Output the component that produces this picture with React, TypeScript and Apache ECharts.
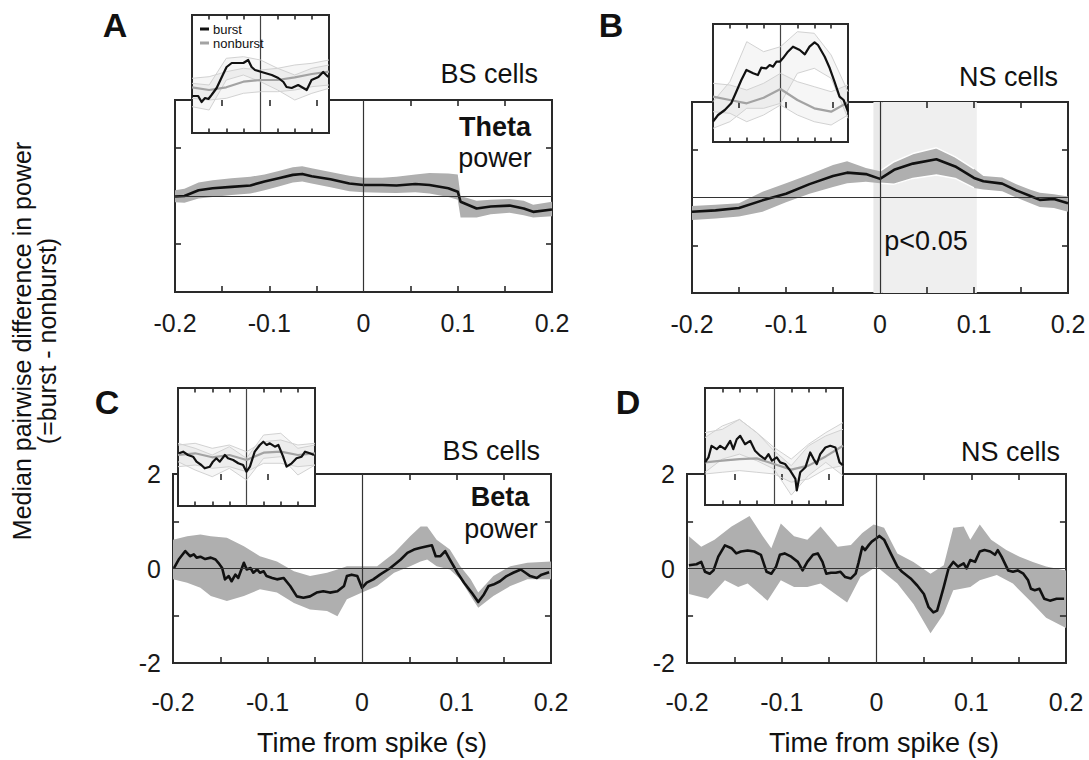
import React, { useEffect, useRef } from "react";
import * as echarts from "echarts";

const FONT = '"Liberation Sans", Arial, Helvetica, sans-serif';

// ---------- Panel A: theta power, BS cells ----------
const tA = [-0.2, -0.19, -0.175, -0.16, -0.14, -0.12, -0.105, -0.09, -0.075, -0.065, -0.055, -0.035, -0.015, 0, 0.02, 0.035, 0.055, 0.07, 0.09, 0.1, 0.103, 0.12, 0.135, 0.155, 0.17, 0.18, 0.2];
const meanA = [-0.01, 0.0, 0.12, 0.16, 0.19, 0.22, 0.3, 0.37, 0.44, 0.46, 0.41, 0.35, 0.26, 0.23, 0.23, 0.22, 0.25, 0.23, 0.16, 0.09, -0.12, -0.26, -0.22, -0.2, -0.26, -0.33, -0.28];
const hiA = [0.12, 0.15, 0.28, 0.33, 0.37, 0.4, 0.45, 0.52, 0.6, 0.62, 0.58, 0.5, 0.42, 0.38, 0.38, 0.4, 0.45, 0.48, 0.47, 0.45, 0.0, -0.1, -0.08, -0.06, -0.1, -0.18, -0.12];
const loA = [-0.13, -0.14, -0.05, -0.02, 0.02, 0.05, 0.12, 0.2, 0.28, 0.3, 0.26, 0.18, 0.1, 0.08, 0.07, 0.06, 0.08, 0.05, -0.02, -0.08, -0.45, -0.45, -0.38, -0.35, -0.4, -0.45, -0.42];

// ---------- Panel B: theta power, NS cells ----------
const tB = [-0.2, -0.175, -0.15, -0.125, -0.1, -0.075, -0.05, -0.035, -0.015, 0, 0.015, 0.035, 0.06, 0.08, 0.1, 0.11, 0.13, 0.145, 0.16, 0.17, 0.185, 0.2];
const meanB = [-0.3, -0.27, -0.22, -0.06, 0.08, 0.28, 0.45, 0.52, 0.49, 0.39, 0.58, 0.71, 0.8, 0.65, 0.41, 0.34, 0.29, 0.15, 0.03, -0.05, -0.03, -0.12];
const hiB = [-0.18, -0.15, -0.12, 0.12, 0.3, 0.48, 0.68, 0.76, 0.62, 0.55, 0.75, 0.92, 1.04, 0.85, 0.6, 0.45, 0.42, 0.28, 0.16, 0.1, 0.07, 0.02];
const loB = [-0.47, -0.44, -0.4, -0.3, -0.1, 0.08, 0.22, 0.3, 0.33, 0.3, 0.28, 0.4, 0.47, 0.4, 0.2, 0.17, 0.13, 0.0, -0.12, -0.2, -0.22, -0.3];
const sigB = [-0.007, 0.103];

// ---------- Panel C: beta power, BS cells ----------
const tC = [-0.199, -0.194, -0.187, -0.182, -0.178, -0.175, -0.171, -0.166, -0.16, -0.155, -0.152, -0.148, -0.145, -0.141, -0.138, -0.134, -0.131, -0.125, -0.122, -0.118, -0.115, -0.111, -0.108, -0.104, -0.101, -0.095, -0.09, -0.083, -0.076, -0.069, -0.062, -0.055, -0.048, -0.041, -0.034, -0.026, -0.019, -0.016, -0.011, -0.005, 0, 0.005, 0.012, 0.019, 0.03, 0.041, 0.048, 0.055, 0.062, 0.069, 0.074, 0.078, 0.083, 0.088, 0.093, 0.101, 0.108, 0.116, 0.123, 0.129, 0.134, 0.139, 0.146, 0.153, 0.16, 0.168, 0.173, 0.178, 0.185, 0.19, 0.198];
const meanC = [0.01, 0.19, 0.37, 0.26, 0.3, 0.23, 0.25, 0.2, 0.23, 0.19, 0.12, 0.01, -0.23, -0.16, -0.27, -0.13, -0.2, 0.12, -0.02, 0.01, -0.09, -0.02, -0.09, -0.06, -0.16, -0.2, -0.23, -0.2, -0.37, -0.59, -0.62, -0.59, -0.51, -0.48, -0.51, -0.48, -0.37, -0.16, -0.13, -0.16, -0.41, -0.3, -0.23, -0.13, 0.01, 0.19, 0.33, 0.4, 0.44, 0.47, 0.49, 0.26, 0.26, 0.37, 0.19, -0.09, -0.3, -0.51, -0.71, -0.55, -0.37, -0.34, -0.27, -0.16, -0.09, -0.02, -0.09, -0.16, -0.2, -0.13, -0.08];
const tCband = [-0.2, -0.185, -0.171, -0.16, -0.143, -0.125, -0.108, -0.09, -0.072, -0.055, -0.037, -0.026, -0.016, 0, 0.016, 0.034, 0.051, 0.062, 0.069, 0.079, 0.093, 0.104, 0.115, 0.123, 0.139, 0.157, 0.175, 0.2];
const hiC = [0.61, 0.68, 0.72, 0.68, 0.65, 0.47, 0.26, 0.15, -0.06, -0.16, -0.09, -0.02, 0.05, 0.05, 0.05, 0.33, 0.68, 0.89, 0.89, 0.61, 0.4, 0.05, -0.23, -0.51, -0.16, 0.05, 0.12, 0.15];
const loC = [-0.23, -0.3, -0.41, -0.58, -0.69, -0.58, -0.44, -0.51, -0.73, -0.87, -0.9, -1.01, -0.65, -0.51, -0.37, -0.09, 0.05, 0.15, 0.19, 0.05, -0.02, -0.23, -0.58, -0.83, -0.58, -0.37, -0.23, -0.23];

// ---------- Panel D: beta power, NS cells ----------
const tD = [-0.198, -0.19, -0.185, -0.181, -0.176, -0.172, -0.167, -0.16, -0.153, -0.148, -0.143, -0.136, -0.129, -0.122, -0.116, -0.111, -0.106, -0.102, -0.097, -0.09, -0.083, -0.078, -0.073, -0.067, -0.062, -0.057, -0.053, -0.048, -0.043, -0.038, -0.033, -0.027, -0.022, -0.019, -0.015, -0.012, -0.008, -0.005, 0, 0.003, 0.008, 0.015, 0.022, 0.027, 0.036, 0.043, 0.05, 0.055, 0.06, 0.064, 0.071, 0.076, 0.081, 0.086, 0.092, 0.095, 0.099, 0.104, 0.109, 0.114, 0.12, 0.125, 0.128, 0.132, 0.139, 0.144, 0.149, 0.155, 0.16, 0.163, 0.167, 0.172, 0.177, 0.183, 0.19, 0.198];
const meanD = [0.07, 0.09, 0.14, -0.07, -0.11, -0.04, 0.25, 0.49, 0.43, 0.32, 0.36, 0.38, 0.36, 0.29, -0.07, -0.11, 0.04, 0.29, 0.32, 0.25, 0.14, -0.04, 0.14, 0.29, 0.32, 0.14, -0.11, -0.09, -0.09, -0.07, -0.18, -0.21, -0.11, 0.12, 0.46, 0.39, 0.5, 0.57, 0.64, 0.69, 0.61, 0.32, 0.04, -0.07, -0.21, -0.36, -0.54, -0.82, -0.93, -0.89, -0.39, 0, 0.14, 0.04, 0.11, 0, 0.18, 0.14, 0.36, 0.39, 0.36, 0.29, 0.39, 0.25, -0.04, -0.07, -0.04, -0.11, -0.25, -0.43, -0.46, -0.43, -0.64, -0.68, -0.64, -0.64];
const tDhi = [-0.198, -0.185, -0.171, -0.153, -0.134, -0.12, -0.111, -0.101, -0.087, -0.073, -0.059, -0.041, -0.027, -0.015, -0.003, 0.008, 0.022, 0.039, 0.057, 0.071, 0.081, 0.092, 0.099, 0.109, 0.121, 0.137, 0.151, 0.165, 0.179, 0.2];
const hiD = [0.68, 0.46, 0.61, 0.89, 1.11, 0.68, 0.43, 0.95, 0.68, 0.61, 0.89, 0.46, 0.5, 0.75, 0.93, 0.86, 0.32, 0.14, -0.11, 0.07, 0.86, 0.89, 0.61, 0.93, 0.61, 0.39, 0.25, 0.14, 0.04, -0.04];
const tDlo = [-0.198, -0.178, -0.16, -0.146, -0.136, -0.115, -0.101, -0.087, -0.073, -0.059, -0.031, -0.017, 0, 0.011, 0.022, 0.039, 0.057, 0.071, 0.081, 0.099, 0.109, 0.127, 0.144, 0.162, 0.179, 0.2];
const loD = [-0.54, -0.64, -0.25, -0.39, -0.32, -0.68, -0.25, -0.39, -0.39, -0.32, -0.72, -0.18, 0.04, -0.14, -0.32, -0.75, -1.37, -0.96, -0.46, -0.39, -0.25, -0.14, -0.32, -0.68, -1.04, -1.26];

// ---------- Insets (arbitrary power units) ----------
const tIn = [-0.2, -0.15, -0.1, -0.05, 0, 0.05, 0.1, 0.15, 0.2];

const tInA = [-0.199, -0.182, -0.172, -0.162, -0.152, -0.143, -0.128, -0.113, -0.099, -0.084, -0.05, -0.036, -0.026, -0.016, 0.013, 0.033, 0.052, 0.067, 0.076, 0.091, 0.11, 0.125, 0.135, 0.149, 0.169, 0.183, 0.198];
const burstA = [37, 37, 31, 35, 34, 38, 45, 56, 66, 70, 70, 73, 66, 63, 60, 58, 55, 51, 46, 45, 48, 45, 43, 53, 56, 61, 56];
const burstHiA = [49.7, 48, 74.7, 76.3, 73, 64.7, 58, 64.7, 68];
const burstLoA = [26.3, 23, 53, 58, 51.3, 43, 33, 39.7, 44.7];
const nonA = [45.7, 43, 45.7, 51.3, 53, 53, 55.7, 59, 61.3];
const nonHiA = [54.7, 56.3, 61.3, 64.7, 63, 64.7, 68, 69.7, 73];
const nonLoA = [34.7, 33, 34.7, 39.7, 41.3, 41.3, 43, 46.3, 48];

const tInB = [-0.2, -0.185, -0.165, -0.146, -0.131, -0.116, -0.101, -0.081, -0.067, -0.057, -0.042, -0.032, -0.022, -0.012, -0.002, 0.007, 0.022, 0.037, 0.057, 0.072, 0.086, 0.101, 0.111, 0.131, 0.146, 0.16, 0.175, 0.187, 0.2];
const burstB = [20.3, 27, 32, 38.7, 50.3, 62, 72, 68.7, 67, 74.3, 73.7, 77, 75.3, 80.3, 80.3, 83.7, 90.3, 95.3, 92, 87.7, 95.3, 99.7, 97, 85.3, 73.7, 60.3, 45.3, 42, 30.3];
const burstHiB = [40.3, 60.3, 100.3, 90.3, 95.3, 110.3, 108.7, 87, 50.3];
const burstLoB = [13.7, 20.3, 33.7, 33.7, 38.7, 68.7, 73.7, 63.7, 23.7];
const nonB = [45.3, 42, 38.7, 44.3, 53, 42, 33.7, 30.3, 39.7];
const nonHiB = [58.7, 57, 52, 58.7, 68.7, 60.3, 55.3, 50.3, 57];
const nonLoB = [30.3, 28.7, 20.3, 27, 37, 27, 20.3, 17, 27];

const tInC = [-0.197, -0.185, -0.171, -0.156, -0.146, -0.132, -0.122, -0.107, -0.098, -0.088, -0.078, -0.063, -0.054, -0.039, -0.024, -0.01, 0, 0.01, 0.024, 0.039, 0.049, 0.059, 0.068, 0.083, 0.093, 0.107, 0.117, 0.132, 0.146, 0.161, 0.171, 0.185, 0.197];
const burstC = [52.7, 54.3, 51, 49.3, 44.3, 41, 37.7, 39.3, 44.3, 47.7, 44.3, 51, 47.7, 46, 42.7, 41, 34.3, 39.3, 54.3, 61, 64.3, 61, 62.7, 59.3, 61, 49.3, 39.3, 42.7, 47.7, 49.3, 54.3, 52.7, 51];
const burstHiC = [62.7, 57.7, 51, 59.3, 47.7, 71, 72.7, 57.7, 61];
const burstLoC = [44.3, 36, 29.3, 37.7, 26, 47.7, 49.3, 31, 41];
const nonC = [51, 52.7, 48.7, 51, 46, 53.3, 54.3, 51, 52.7];
const nonHiC = [61, 62.7, 57.7, 61, 54.3, 64.3, 66, 61, 62.7];
const nonLoC = [39.3, 41, 37.7, 39.3, 34.3, 42.7, 42.7, 39.3, 41];

const tInD = [-0.2, -0.19, -0.181, -0.166, -0.156, -0.142, -0.127, -0.118, -0.108, -0.098, -0.084, -0.069, -0.055, -0.04, -0.026, -0.016, -0.006, 0.008, 0.018, 0.032, 0.047, 0.062, 0.066, 0.076, 0.091, 0.105, 0.115, 0.124, 0.134, 0.149, 0.163, 0.178, 0.19, 0.2];
const burstD = [43, 48, 59.7, 56.3, 59.7, 56.3, 64.7, 56.3, 66.3, 69.7, 61.3, 64.7, 54.7, 49.7, 46.3, 51.3, 44.7, 48, 43, 41.3, 34.7, 26.3, 14.7, 33, 38, 53, 46.3, 41.3, 51.3, 58, 59.7, 58, 43, 40];
const burstHiD = [68, 79.7, 86.3, 73, 54.7, 39.7, 59.7, 69.7, 76.3];
const burstLoD = [33, 46.3, 51.3, 44.7, 36.3, 10, 29.7, 43, 29.7];
const nonD = [43, 44.7, 46.3, 47, 41.3, 35.7, 39.7, 49, 59.7];
const nonHiD = [73, 76.3, 86.3, 73, 58, 46.3, 61.3, 73, 83];
const nonLoD = [31.3, 33, 34.7, 33, 31.3, 23, 26.3, 36.3, 39.7];

// tick positions (axis units)
const xTickVals = [-0.15, -0.1, -0.05, 0.05, 0.1, 0.15];
const yTickVals = [-1, 1];

const xTickFmt = (v: number) => {
  const r = Math.round(v * 100);
  if (r % 10 !== 0) return "";
  return r === 0 ? "0" : String(r / 100);
};

function buildOption() {
  const grids: any[] = [];
  const xAxes: any[] = [];
  const yAxes: any[] = [];
  const series: any[] = [];

  const INK = "#2a2a2a";
  const noLine = () => ({ show: false, onZero: false });
  const noTick = () => ({ show: false });

  // inward tick marks drawn as short markLine segments in axis units
  function tickMarks(xi: number, yi: number, xr: number[], yr: number[], xt: number[], yt: number[], dy: number, dx: number, z: number) {
    const segs: any[] = [];
    xt.forEach((x) => {
      segs.push([{ coord: [x, yr[0]] }, { coord: [x, yr[0] + dy] }]);
      segs.push([{ coord: [x, yr[1]] }, { coord: [x, yr[1] - dy] }]);
    });
    yt.forEach((y) => {
      segs.push([{ coord: [xr[0], y] }, { coord: [xr[0] + dx, y] }]);
      segs.push([{ coord: [xr[1], y] }, { coord: [xr[1] - dx, y] }]);
    });
    return {
      type: "line", xAxisIndex: xi, yAxisIndex: yi, z, silent: true, clip: false, data: [],
      markLine: {
        silent: true, symbol: ["none", "none"], label: { show: false },
        lineStyle: { color: INK, width: 1.6, type: "solid" }, emphasis: { disabled: true },
        data: segs,
      },
    };
  }

  function addMain(rect: number[], yLabels: boolean, labelMargin: number) {
    const g = grids.length;
    grids.push({
      left: rect[0], top: rect[1], width: rect[2], height: rect[3],
      show: true, borderColor: INK, borderWidth: 2, backgroundColor: "transparent", z: 0,
    });
    const xi = xAxes.length;
    xAxes.push({
      gridIndex: g, type: "value", min: -0.2, max: 0.2, interval: 0.05, position: "bottom",
      axisLine: noLine(), axisTick: noTick(), splitLine: { show: false },
      axisLabel: { show: true, margin: labelMargin, fontSize: 25, color: "#1a1a1a", fontFamily: FONT, formatter: xTickFmt },
    });
    const yi = yAxes.length;
    yAxes.push({
      gridIndex: g, type: "value", min: -2, max: 2, interval: 1, position: "left",
      axisLine: noLine(), axisTick: noTick(), splitLine: { show: false },
      axisLabel: {
        show: yLabels, margin: 12, fontSize: 25, color: "#1a1a1a", fontFamily: FONT,
        formatter: (v: number) => (Math.round(v) % 2 === 0 ? String(Math.round(v)) : ""),
      },
    });
    series.push(tickMarks(xi, yi, [-0.2, 0.2], [-2, 2], xTickVals, yTickVals, 0.125, 0.0064, 4));
    return { xi, yi };
  }

  function addInset(rect: number[]) {
    const g = grids.length;
    grids.push({
      left: rect[0], top: rect[1], width: rect[2], height: rect[3],
      show: true, borderColor: INK, borderWidth: 2, backgroundColor: "#ffffff", z: 5,
    });
    const xi = xAxes.length;
    xAxes.push({
      gridIndex: g, type: "value", min: -0.2, max: 0.2, interval: 0.05, position: "bottom",
      axisLine: noLine(), axisTick: noTick(), splitLine: { show: false }, axisLabel: { show: false },
    });
    const yi = yAxes.length;
    yAxes.push({
      gridIndex: g, type: "value", min: 0, max: 118, position: "left",
      axisLine: noLine(), axisTick: noTick(), splitLine: { show: false }, axisLabel: { show: false },
    });
    series.push(tickMarks(xi, yi, [-0.2, 0.2], [0, 118], xTickVals, [], 4.5, 0, 11));
    return { xi, yi };
  }

  function band(xi: number, yi: number, tHi: number[], hi: number[], tLo: number[], lo: number[], color: string, z: number) {
    return {
      type: "custom", xAxisIndex: xi, yAxisIndex: yi, z, silent: true, clip: false,
      data: tHi.map((t, i) => [t, hi[i]]),
      renderItem: (params: any, api: any) => {
        if (params.dataIndex !== 0) return null;
        const pts: number[][] = [];
        for (let i = 0; i < tHi.length; i++) pts.push(api.coord([tHi[i], hi[i]]));
        for (let i = tLo.length - 1; i >= 0; i--) pts.push(api.coord([tLo[i], lo[i]]));
        return { type: "polygon", shape: { points: pts }, style: { fill: color } };
      },
    };
  }

  function line(xi: number, yi: number, ts: number[], vs: number[], color: string, width: number, z: number) {
    return {
      type: "line", xAxisIndex: xi, yAxisIndex: yi, z, silent: true, clip: false,
      data: ts.map((t, i) => [t, vs[i]]),
      showSymbol: false, symbol: "none",
      lineStyle: { color, width, join: "round" },
      emphasis: { disabled: true },
    };
  }

  function zeroLines(xi: number, yi: number, withH: boolean, z: number, color: string, width: number) {
    return {
      type: "line", xAxisIndex: xi, yAxisIndex: yi, z, silent: true, clip: false, data: [],
      markLine: {
        silent: true, symbol: ["none", "none"], label: { show: false },
        lineStyle: { color, width, type: "solid" }, emphasis: { disabled: true },
        data: withH ? [{ xAxis: 0 }, { yAxis: 0 }] : [{ xAxis: 0 }],
      },
    };
  }

  const BAND = "#afafaf";

  // main panels
  const A = addMain([175, 100, 377, 192], false, 18);
  const B = addMain([692, 102, 376, 191], false, 18);
  const C = addMain([173, 474, 378, 189], true, 26);
  const D = addMain([687, 474, 379, 189], true, 26);

  // significance shading in B
  series.push({
    type: "line", xAxisIndex: B.xi, yAxisIndex: B.yi, z: 1, silent: true, clip: false, data: [],
    markArea: {
      silent: true,
      data: [
        [{ xAxis: sigB[0], itemStyle: { color: "#e9e9e9" } }, { xAxis: 0.003 }],
        [{ xAxis: 0.003, itemStyle: { color: "#efefef" } }, { xAxis: sigB[1] }],
      ],
    },
  });

  const panels = [
    { p: A, t: meanA, ts: tA, band: [tA, hiA, tA, loA] },
    { p: B, t: meanB, ts: tB, band: [tB, hiB, tB, loB] },
    { p: C, t: meanC, ts: tC, band: [tCband, hiC, tCband, loC] },
    { p: D, t: meanD, ts: tD, band: [tDhi, hiD, tDlo, loD] },
  ];
  panels.forEach(({ p, t, ts, band: b }) => {
    series.push(band(p.xi, p.yi, b[0] as number[], b[1] as number[], b[2] as number[], b[3] as number[], BAND, 2));
    series.push(zeroLines(p.xi, p.yi, true, 3, "#333", 1.2));
    series.push(line(p.xi, p.yi, ts, t, "#111", 2.6, 4));
  });

  // white edges of the band inside the significant window (B)
  const inWin = (ts: number[], vs: number[]) => {
    const tt: number[] = [];
    const vv: number[] = [];
    ts.forEach((t, i) => {
      if (t >= 0 && t <= 0.1) { tt.push(t); vv.push(vs[i]); }
    });
    return [tt, vv];
  };
  const [wt1, wv1] = inWin(tB, hiB);
  const [wt2, wv2] = inWin(tB, loB);
  series.push(line(B.xi, B.yi, wt1, wv1, "#ffffff", 1.5, 3));
  series.push(line(B.xi, B.yi, wt2, wv2, "#ffffff", 1.5, 3));

  // insets
  const insets = [
    { rect: [192, 15, 137, 118], tb: tInA, b: burstA, bh: burstHiA, bl: burstLoA, n: nonA, nh: nonHiA, nl: nonLoA },
    { rect: [713, 24, 135, 118], tb: tInB, b: burstB, bh: burstHiB, bl: burstLoB, n: nonB, nh: nonHiB, nl: nonLoB },
    { rect: [178, 388, 137, 118], tb: tInC, b: burstC, bh: burstHiC, bl: burstLoC, n: nonC, nh: nonHiC, nl: nonLoC },
    { rect: [705, 388, 138, 117], tb: tInD, b: burstD, bh: burstHiD, bl: burstLoD, n: nonD, nh: nonHiD, nl: nonLoD },
  ];
  insets.forEach((s) => {
    const p = addInset(s.rect);
    series.push(band(p.xi, p.yi, tIn, s.nh, tIn, s.nl, "rgba(0,0,0,0.035)", 7));
    series.push(band(p.xi, p.yi, tIn, s.bh, tIn, s.bl, "rgba(0,0,0,0.035)", 7));
    series.push(zeroLines(p.xi, p.yi, false, 8, "#444", 1.2));
    series.push(line(p.xi, p.yi, tIn, s.nh, "#d2d2d2", 1, 8));
    series.push(line(p.xi, p.yi, tIn, s.nl, "#d2d2d2", 1, 8));
    series.push(line(p.xi, p.yi, tIn, s.bh, "#d2d2d2", 1, 8));
    series.push(line(p.xi, p.yi, tIn, s.bl, "#d2d2d2", 1, 8));
    series.push(line(p.xi, p.yi, tIn, s.n, "#a3a3a3", 2.2, 9));
    series.push(line(p.xi, p.yi, s.tb, s.b, "#111", 2.2, 10));
  });

  const text = (x: number, y: number, s: string, size: number, align: string, bold = false, extra: any = {}) => ({
    type: "text", x, y, z: 50, silent: true, ...extra,
    style: {
      text: s, fontSize: size, fontFamily: FONT, fontWeight: bold ? "bold" : "normal", fill: "#111",
      align, verticalAlign: "middle", textAlign: align, textVerticalAlign: "middle",
    },
  });

  const graphic: any[] = [
    text(115, 25, "A", 34, "center", true),
    text(611, 25, "B", 34, "center", true),
    text(107, 402, "C", 34, "center", true),
    text(628, 402, "D", 34, "center", true),
    text(538, 74, "BS cells", 27, "right"),
    text(1058, 77, "NS cells", 27, "right"),
    text(540, 451, "BS cells", 27, "right"),
    text(1060, 452, "NS cells", 27, "right"),
    text(495, 127, "Theta", 27, "center", true),
    text(495, 158, "power", 27, "center"),
    text(500, 497, "Beta", 27, "center", true),
    text(501, 529, "power", 27, "center"),
    text(926, 241, "p<0.05", 27, "center"),
    text(372, 743, "Time from spike (s)", 27, "center"),
    text(884, 743, "Time from spike (s)", 27, "center"),
    text(22, 341, "Median pairwise difference in power", 25, "center", false, { rotation: Math.PI / 2 }),
    text(47, 341, "(=burst - nonburst)", 25, "center", false, { rotation: Math.PI / 2 }),
    { type: "line", z: 60, silent: true, shape: { x1: 200, y1: 29, x2: 209, y2: 29 }, style: { stroke: "#111", lineWidth: 3 } },
    { type: "line", z: 60, silent: true, shape: { x1: 200, y1: 43, x2: 209, y2: 43 }, style: { stroke: "#a3a3a3", lineWidth: 3 } },
    text(213, 29, "burst", 13, "left", false, { z: 60 }),
    text(213, 43, "nonburst", 13, "left", false, { z: 60 }),
  ];

  return {
    animation: false,
    backgroundColor: "#ffffff",
    grid: grids,
    xAxis: xAxes,
    yAxis: yAxes,
    series,
    graphic,
  };
}

export default function App() {
  const ref = useRef<HTMLDivElement>(null);
  useEffect(() => {
    if (!ref.current) return;
    const chart = echarts.init(ref.current, null, { renderer: "svg", width: 1089, height: 760 });
    chart.setOption(buildOption() as any);
    return () => chart.dispose();
  }, []);
  return (
    <div
      ref={ref}
      style={{ position: "fixed", left: 0, top: 0, width: 1089, height: 760, background: "#fff" }}
    />
  );
}
